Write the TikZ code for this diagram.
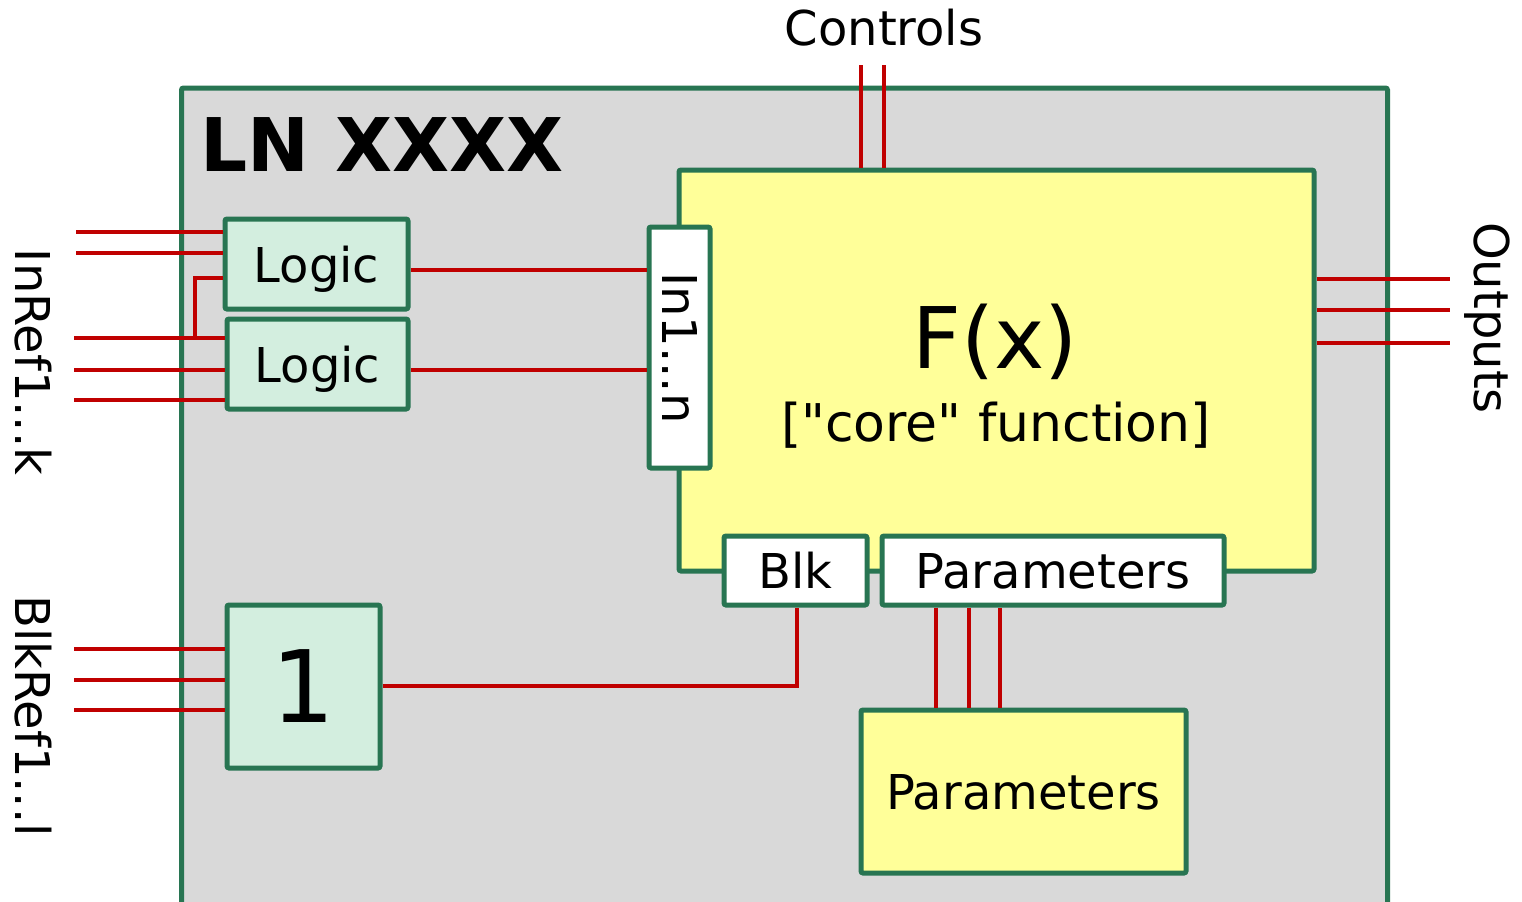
\documentclass[tikz,border=0pt]{standalone}
\usepackage{fontspec}
\setmainfont{DejaVu Sans}[Ligatures=TeXOff]
\definecolor{bordergreen}{HTML}{287552}
\definecolor{boxgray}{HTML}{D9D9D9}
\definecolor{coreyellow}{HTML}{FFFF99}
\definecolor{logicgreen}{HTML}{D3EEDF}
\definecolor{wirered}{HTML}{C00000}
\tikzset{
  box/.style={draw=bordergreen, line width=2.5pt, rounded corners=1pt, inner sep=0pt, align=center},
  greenbox/.style={box, fill=logicgreen},
  yellowbox/.style={box, fill=coreyellow},
  whitebox/.style={box, fill=white},
  wire/.style={draw=wirered, line width=2.4pt},
  lbl/.style={inner sep=0pt, font=\fontsize{24}{28}\selectfont},
  boxlbl/.style={lbl, text depth=0pt},
}
\begin{document}
\begin{tikzpicture}[x=0.5pt, y=-0.5pt]
\clip (0,0) rectangle (1522,901);
\fill[white] (0,0) rectangle (1522,901);
% outer logical node
\node[box, fill=boxgray, minimum width=603pt, minimum height=420pt] (ln) at (784.5,508) {};
\node[inner sep=0pt, anchor=west, font=\fontsize{37}{40}\selectfont\bfseries] (title) at (200,145) {LN XXXX};
% core function box
\node[yellowbox, minimum width=317.5pt, minimum height=200.5pt] (core) at (996.5,370.5) {};
\node[inner sep=0pt, font=\fontsize{42.5}{46}\selectfont] (fx) at (995,342) {F(x)};
\node[inner sep=0pt, font=\fontsize{26}{30}\selectfont] (corelbl) at (996,425) {["core" function]};
% input port
\node[whitebox, minimum width=30.5pt, minimum height=120.5pt] (in) at (679.5,347.5) {};
\node[lbl, rotate=-90] (inlbl) at (680,348) {In1...n};
% blk and parameters ports
\node[whitebox, minimum width=71.5pt, minimum height=34.5pt, boxlbl] (blk) at (795.5,570.5) {Blk};
\node[whitebox, minimum width=171pt, minimum height=34.5pt, boxlbl] (par) at (1053,570.5) {Parameters};
% lower parameters box
\node[yellowbox, minimum width=162.5pt, minimum height=81.5pt, boxlbl] (lpar) at (1023.5,791.5) {Parameters};
% logic boxes
\node[greenbox, minimum width=91.5pt, minimum height=45pt, boxlbl] (logic1) at (316.5,264) {Logic};
\node[greenbox, minimum width=90.5pt, minimum height=45pt, boxlbl] (logic2) at (317.5,364) {Logic};
\node[greenbox, minimum width=76.5pt, minimum height=81.5pt, inner sep=0pt, text depth=0pt, font=\fontsize{50}{54}\selectfont] (one) at (303.5,686.5) {1};
% outer labels
\node[lbl] (controls) at (884,28) {Controls};
\node[lbl, rotate=-90] (outputs) at (1487,318) {Outputs};
\node[lbl, rotate=-90] (inref) at (33,362) {InRef1...k};
\node[lbl, rotate=-90] (blkref) at (33,716) {BlkRef1...l};
% free ends
\coordinate (i1) at (76,232);
\coordinate (i2) at (76,253);
\coordinate (i3) at (74,338);
\coordinate (i4) at (74,370);
\coordinate (i5) at (74,400);
\coordinate (b1) at (74,649);
\coordinate (b2) at (74,680);
\coordinate (b3) at (74,710);
\coordinate (c1) at (861,65);
\coordinate (c2) at (884,65);
\coordinate (o1) at (1450,279);
\coordinate (o2) at (1450,310);
\coordinate (o3) at (1450,343);
\coordinate (fork) at (195,338);
% wires
\draw[wire] (i1) -- (i1 -| logic1.west);
\draw[wire] (i2) -- (i2 -| logic1.west);
\draw[wire] (i3) -- (i3 -| logic2.west);
\draw[wire] (fork) |- (logic1.west |- 0,278);
\draw[wire] (i4) -- (i4 -| logic2.west);
\draw[wire] (i5) -- (i5 -| logic2.west);
\draw[wire] (logic1.east |- 0,270) -- (in.west |- 0,270);
\draw[wire] (logic2.east |- 0,370) -- (in.west |- 0,370);
\draw[wire] (b1) -- (b1 -| one.west);
\draw[wire] (b2) -- (b2 -| one.west);
\draw[wire] (b3) -- (b3 -| one.west);
\draw[wire] (one.east |- 0,686) -| (blk.south -| 797,0);
\draw[wire] (c1) -- (c1 |- core.north);
\draw[wire] (c2) -- (c2 |- core.north);
\draw[wire] (o1 -| core.east) -- (o1);
\draw[wire] (o2 -| core.east) -- (o2);
\draw[wire] (o3 -| core.east) -- (o3);
\draw[wire] (par.south -| 936,0) -- (lpar.north -| 936,0);
\draw[wire] (par.south -| 969,0) -- (lpar.north -| 969,0);
\draw[wire] (par.south -| 1000,0) -- (lpar.north -| 1000,0);
\end{tikzpicture}
\end{document}
